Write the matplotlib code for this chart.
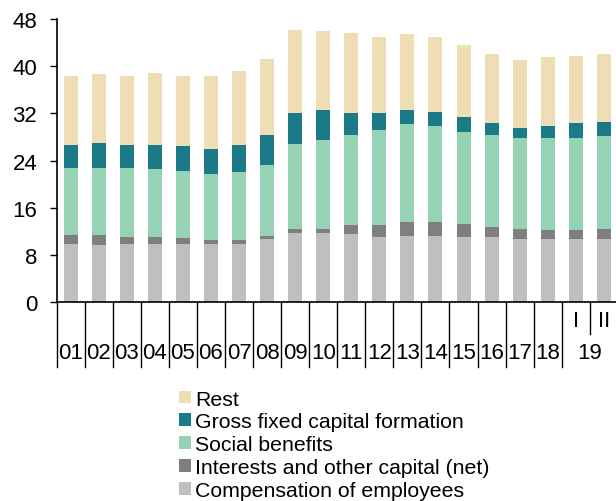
import matplotlib
matplotlib.use("Agg")
import matplotlib.pyplot as plt
from matplotlib.patches import Patch
import numpy as np

plt.rcParams['font.family'] = ['Liberation Sans', 'DejaVu Sans']

years = ["01", "02", "03", "04", "05", "06", "07", "08", "09", "10",
         "11", "12", "13", "14", "15", "16", "17", "18"]
sub_labels = ["I", "II"]
last_year = "19"

compensation = [9.9, 9.6, 9.9, 9.9, 9.9, 9.9, 9.9, 10.7, 11.7, 11.7,
                11.5, 11.0, 11.2, 11.2, 11.0, 11.0, 10.7, 10.7, 10.7, 10.7]
interests = [1.5, 1.8, 1.2, 1.2, 1.0, 0.7, 0.7, 0.5, 0.7, 0.7,
             1.5, 2.0, 2.35, 2.35, 2.3, 1.8, 1.7, 1.55, 1.55, 1.7]
social = [11.35, 11.35, 11.65, 11.4, 11.3, 11.1, 11.4, 12.1, 14.4, 15.1,
          15.3, 16.1, 16.65, 16.35, 15.55, 15.5, 15.4, 15.55, 15.55, 15.7]
gfcf = [3.95, 4.25, 3.95, 4.2, 4.2, 4.2, 4.7, 5.0, 5.2, 5.0,
        3.7, 2.9, 2.3, 2.3, 2.6, 2.1, 1.8, 2.1, 2.6, 2.5]
rest = [11.6, 11.6, 11.6, 12.1, 11.9, 12.4, 12.4, 12.9, 14.2, 13.5,
        13.7, 12.9, 13.0, 12.7, 12.15, 11.7, 11.4, 11.6, 11.3, 11.4]

series = [
    ("Compensation of employees", compensation, "#BFBFBF"),
    ("Interests and other capital (net)", interests, "#7F7F7F"),
    ("Social benefits", social, "#96D2B4"),
    ("Gross fixed capital formation", gfcf, "#1B7A87"),
    ("Rest", rest, "#EEDDB5"),
]

FS = 16
LFS = 15.3

fig = plt.figure(figsize=(6.16, 5.02), dpi=100)
ax = fig.add_axes([0.092, 0.3964, 0.911, 0.5637])

n = len(compensation)
x = np.arange(n)
bottom = np.zeros(n)
handles = []
for name, vals, col in series:
    ax.bar(x, vals, width=0.5, bottom=bottom, color=col, linewidth=0)
    bottom += np.array(vals)
    handles.append(Patch(facecolor=col, edgecolor='none', label=name))

ax.set_xlim(-0.5, n - 0.5)
ax.set_ylim(0, 48)
ax.set_yticks(np.arange(0, 49, 8))
ax.tick_params(axis='y', labelsize=FS, length=5, width=1.0, pad=9, direction='out')
ax.set_xticks([])
for s in ['top', 'right']:
    ax.spines[s].set_visible(False)
for s in ['left', 'bottom']:
    ax.spines[s].set_linewidth(1.2)
    ax.spines[s].set_color('black')

tr = ax.get_xaxis_transform()
# separators
for b in np.arange(-0.5, len(years), 1.0):
    ax.plot([b, b], [0, -0.2286], transform=tr, color='black', lw=1.0, clip_on=False)
ax.plot([len(years) + 0.5] * 2, [0, -0.113], transform=tr, color='black', lw=1.0, clip_on=False)

for i, lab in enumerate(years):
    ax.text(i, -0.180, lab, transform=tr, ha='center', va='center', fontsize=FS)
for j, lab in enumerate(sub_labels):
    ax.text(len(years) + j, -0.0654, lab, transform=tr, ha='center', va='center', fontsize=FS)
ax.text(len(years) + 0.5, -0.180, last_year, transform=tr, ha='center', va='center', fontsize=FS)

leg = fig.legend(handles=handles[::-1], loc='upper left', bbox_to_anchor=(0.291, 0.222),
                 frameon=False, fontsize=LFS, handlelength=0.55, handleheight=0.55,
                 handletextpad=0.2, labelspacing=0.18, borderpad=0, borderaxespad=0)

fig.savefig("out.png", dpi=100)
